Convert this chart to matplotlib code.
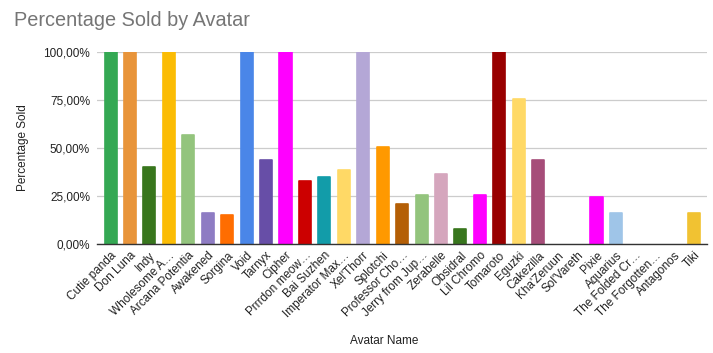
import matplotlib
matplotlib.use("Agg")
import matplotlib.pyplot as plt
from matplotlib.ticker import FuncFormatter

plt.rcParams["font.family"] = ["Liberation Sans", "DejaVu Sans"]

avatars = [
    "Cutie panda", "Don Luna", "Indy", "Wholesome A…", "Arcana Potentia",
    "Awakened", "Sorgina", "Void", "Tarnyx", "Cipher", "Prrrdon meow…",
    "Bai Suzhen", "Imperator Max…", "Xel'Thorr", "Splotchi", "Professor Cho…",
    "Jerry from Jup…", "Zerabelle", "Obsidral", "Lil Chromo", "Tomaroto",
    "Eguzki", "Cakezilla", "Kha'Zeruun", "Sol'Vareth", "Pixie", "Aquarius",
    "The Folded Cr…", "The Forgotten…", "Antagonos", "Tiki",
]
pct_sold = [
    1.00, 1.00, 0.40, 1.00, 0.57, 0.16, 0.15, 1.00, 0.44, 1.00, 0.33,
    0.35, 0.385, 1.00, 0.505, 0.21, 0.255, 0.365, 0.08, 0.255, 1.00,
    0.755, 0.44, 0.0, 0.0, 0.245, 0.16, 0.0, 0.0, 0.0, 0.16,
]
bar_colors = [
    "#34a853", "#e8943a", "#38761d", "#fbbc04", "#93c47d", "#8e7cc3",
    "#ff6d01", "#4a86e8", "#674ea7", "#ff00ff", "#cc0000", "#129ca9",
    "#ffd966", "#b4a7d6", "#ff9900", "#b45f06", "#93c47d", "#d5a6bd",
    "#38761d", "#ff00ff", "#990000", "#ffd966", "#a64d79", "#46bdc6",
    "#4285f4", "#ff00ff", "#9fc5e8", "#ea4335", "#34a853", "#fbbc04",
    "#f1c232",
]

fig = plt.figure(figsize=(7.13, 3.53), dpi=100)
ax = fig.add_axes([0.136, 0.309, 0.856, 0.543])

x = list(range(len(avatars)))
bars = ax.bar(x, pct_sold, width=0.62, color=bar_colors, edgecolor=bar_colors,
              linewidth=1.2, joinstyle="round", zorder=3)
# zero bars should stay invisible (no rounded edge stroke)
for b, v in zip(bars, pct_sold):
    if v == 0:
        b.set_linewidth(0)

ax.set_xlim(-0.7, len(avatars) - 0.3)
ax.set_ylim(0, 1.0)
ax.set_yticks([0, 0.25, 0.5, 0.75, 1.0])
ax.yaxis.set_major_formatter(FuncFormatter(lambda v, p: f"{v * 100:.2f}%".replace(".", ",")))
ax.grid(axis="y", color="#cccccc", linewidth=0.9, zorder=0)
ax.set_axisbelow(True)

for s in ["top", "right", "left"]:
    ax.spines[s].set_visible(False)
ax.spines["bottom"].set_color("#333333")
ax.spines["bottom"].set_linewidth(1.0)
ax.spines["bottom"].set_zorder(4)
ax.tick_params(axis="both", length=0, labelsize=8.5, colors="#222222")
ax.tick_params(axis="y", pad=5)

ax.set_xticks(x)
ax.set_xticklabels(avatars, rotation=45, ha="right", rotation_mode="anchor")
ax.tick_params(axis="x", pad=4)

ax.set_ylabel("Percentage Sold", fontsize=8.5, color="#222222", labelpad=10)
ax.set_xlabel("Avatar Name", fontsize=8.5, color="#222222")
ax.xaxis.set_label_coords(0.47, -0.475)

fig.text(14 / 713, 1 - 26 / 353, "Percentage Sold by Avatar", fontsize=14.3,
         color="#757575", ha="left", va="baseline")

fig.savefig("out.png", dpi=100)
